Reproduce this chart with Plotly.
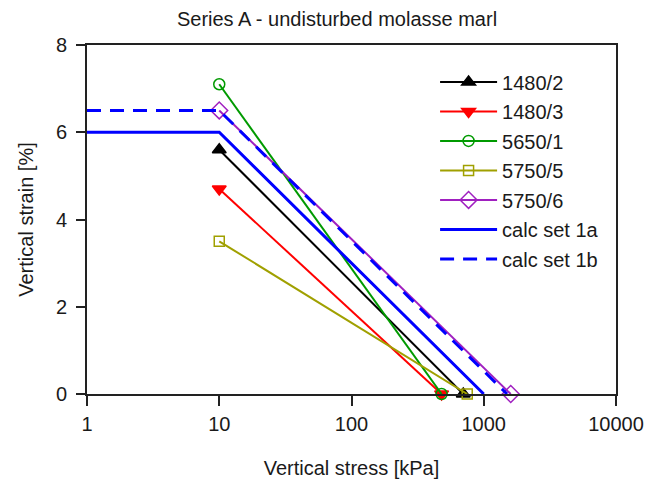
import plotly.graph_objects as go

# ---- data ----
names = ["1480/2", "1480/3", "5650/1", "5750/5", "5750/6", "calc set 1a", "calc set 1b"]
x_1480_2 = [10, 700]
y_1480_2 = [5.6, 0]
x_1480_3 = [10, 480]
y_1480_3 = [4.7, 0]
x_5650_1 = [10, 480]
y_5650_1 = [7.1, 0]
x_5750_5 = [10, 750]
y_5750_5 = [3.5, 0]
x_5750_6 = [10, 1600]
y_5750_6 = [6.5, 0]
x_calc_1a = [1, 10, 1000]
y_calc_1a = [6, 6, 0]
x_calc_1b = [1, 10, 1500]
y_calc_1b = [6.5, 6.5, 0]

x_ticks = [1, 10, 100, 1000, 10000]
x_ticklabels = ["1", "10", "100", "1000", "10000"]
y_ticks = [0, 2, 4, 6, 8]

FONT = "Liberation Sans, Arial, sans-serif"
FS = 20
TXT = "#1a1a1a"

fig = go.Figure()

def add(x, y, name, color, symbol=None, msize=11, width=2, dash="solid"):
    kw = dict(x=x, y=y, name=name, legendgroup=name, cliponaxis=False,
              line=dict(color=color, width=width, dash=dash))
    if symbol:
        kw["mode"] = "lines+markers"
        kw["marker"] = dict(symbol=symbol, size=msize, color=color,
                            line=dict(color=color, width=1.5))
    else:
        kw["mode"] = "lines"
    fig.add_trace(go.Scatter(**kw))

add(x_1480_2, y_1480_2, names[0], "#000000", "triangle-up", 12)
add(x_1480_3, y_1480_3, names[1], "#ff0000", "triangle-down", 12)
add(x_5650_1, y_5650_1, names[2], "#009a00", "circle-open", 11)
add(x_5750_5, y_5750_5, names[3], "#a0a000", "square-open", 10)
add(x_5750_6, y_5750_6, names[4], "#a020c0", "diamond-open", 13)
add(x_calc_1a, y_calc_1a, names[5], "#0000ff", width=3)
add(x_calc_1b, y_calc_1b, names[6], "#0000ff", width=3, dash="14px,9px")

fig.update_layout(
    width=658, height=481,
    margin=dict(l=79, r=50, t=37, b=95),
    paper_bgcolor="white", plot_bgcolor="white",
    font=dict(family=FONT, size=FS, color=TXT),
    title=dict(text="Series A - undisturbed molasse marl", x=0.5,
               xanchor="center", y=1 - 11 / 481, yanchor="middle",
               font=dict(family=FONT, size=FS, color=TXT)),
    showlegend=True,
    legend=dict(x=0.658, y=0.95, xanchor="left", yanchor="top",
                bgcolor="rgba(0,0,0,0)", borderwidth=0, tracegroupgap=0.5,
                itemwidth=57,
                font=dict(family=FONT, size=FS, color=TXT)),
)

fig.update_xaxes(
    type="log", range=[0, 4], tickvals=x_ticks, ticktext=x_ticklabels,
    ticks="outside", ticklen=10, tickwidth=1.5, tickcolor="#222",
    ticklabelstandoff=1,
    showline=True, linecolor="#222", linewidth=2, mirror=True,
    showgrid=False, zeroline=False,
    title=dict(text="Vertical stress [kPa]", standoff=27,
               font=dict(family=FONT, size=FS, color=TXT)),
)
fig.update_yaxes(
    range=[0, 8], tickvals=y_ticks,
    ticks="outside", ticklen=9, tickwidth=1.5, tickcolor="#222",
    ticklabelstandoff=5,
    showline=True, linecolor="#222", linewidth=2, mirror=True,
    showgrid=False, zeroline=False,
    title=dict(text="Vertical strain [%]", standoff=17,
               font=dict(family=FONT, size=FS, color=TXT)),
)

fig.write_html("out.html")
